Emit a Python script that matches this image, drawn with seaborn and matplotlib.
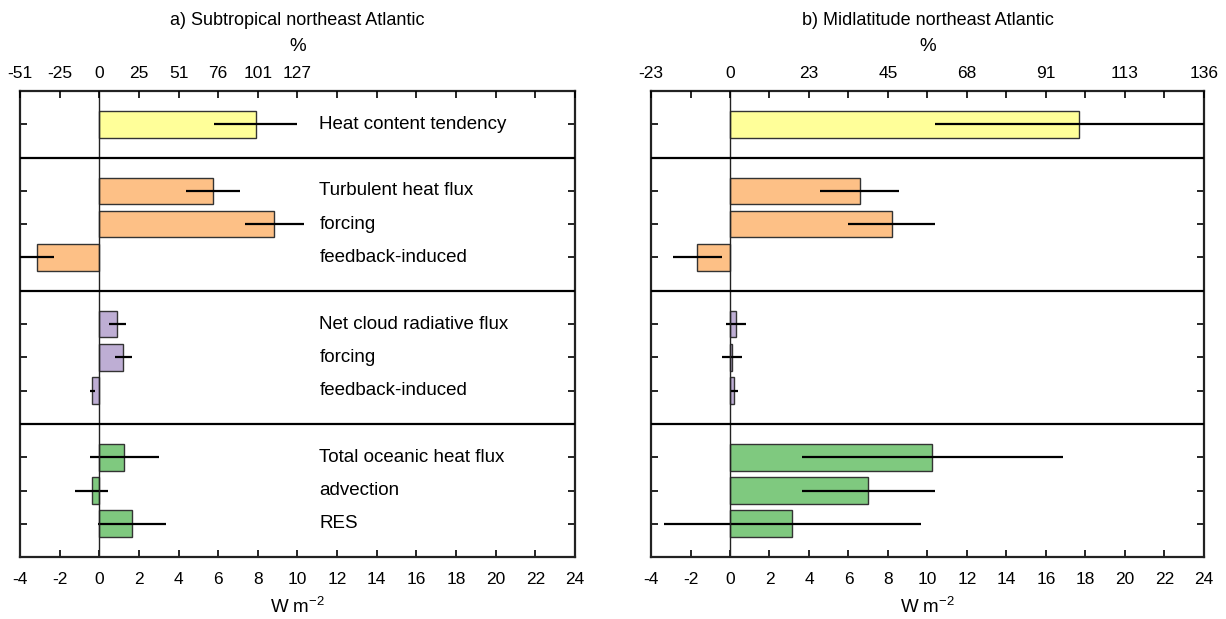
import matplotlib
matplotlib.use("Agg")
import matplotlib.pyplot as plt
import pandas as pd
import seaborn as sns

# rows, top to bottom
labels = [
    "Heat content tendency",
    "Turbulent heat flux", "forcing", "feedback-induced",
    "Net cloud radiative flux", "forcing", "feedback-induced",
    "Total oceanic heat flux", "advection", "RES",
]
groups = ["heat", "turb", "turb", "turb", "cloud", "cloud", "cloud", "ocean", "ocean", "ocean"]

# W m-2
val_a = [7.9, 5.73, 8.84, -3.13, 0.91, 1.22, -0.35, 1.26, -0.38, 1.65]
err_a = [2.1, 1.35, 1.5, 0.85, 0.43, 0.43, 0.13, 1.74, 0.82, 1.7]
val_b = [17.65, 6.56, 8.2, -1.65, 0.31, 0.1, 0.22, 10.25, 7.0, 3.15]
err_b = [7.25, 2.0, 2.2, 1.24, 0.5, 0.5, 0.19, 6.6, 3.36, 6.5]

x_ticks = list(range(-4, 25, 2))
top_labelled_a = [-4, -2, 0, 2, 4, 6, 8, 10]
top_labelled_b = [-4, 0, 4, 8, 12, 16, 20, 24]

palette = {"heat": "#ffff99", "turb": "#fdc086", "cloud": "#beaed4", "ocean": "#7fc97f"}

sns.set_style("white")
plt.rcParams["font.family"] = ["Liberation Sans", "DejaVu Sans"]
plt.rcParams["mathtext.fontset"] = "custom"
plt.rcParams["mathtext.rm"] = "Liberation Sans"
plt.rcParams["axes.unicode_minus"] = False
plt.rcParams["text.color"] = "black"
plt.rcParams["axes.labelcolor"] = "black"
plt.rcParams["xtick.color"] = "black"
plt.rcParams["ytick.color"] = "black"

# group starts get an empty row before them
group_order = list(dict.fromkeys(groups))
rows = [i + group_order.index(g) + 1 for i, g in enumerate(groups)]
n_rows = rows[-1] + 1


def draw_panel(ax, values, errors, top_labelled, title, show_labels):
    df = pd.DataFrame({"value": values, "row": rows, "group": groups})
    sns.barplot(data=df, x="value", y="row", hue="group", palette=palette,
                orient="y", native_scale=True, dodge=False, width=0.8,
                saturation=1, errorbar=None, edgecolor="#333333", linewidth=1.0,
                legend=False, ax=ax, zorder=2)
    ax.errorbar(values, rows, xerr=errors, fmt="none", ecolor="black",
                elinewidth=1.6, capsize=0, zorder=3)
    ax.axvline(0, color="#222222", lw=1.0, zorder=4)
    starts = [rows[i] - 1 for i in range(1, len(groups)) if groups[i] != groups[i - 1]]
    for s in starts:
        ax.axhline(s, color="black", lw=1.6, zorder=4)

    ax.set_xlim(-4, 24)
    ax.set_ylim(n_rows, 0)
    ax.set_xticks(x_ticks)
    ax.set_yticks(rows)
    ax.set_yticklabels([])
    ax.set_ylabel("")
    ax.set_xlabel("W m$^{-2}$", fontsize=13.5, labelpad=6)
    ax.tick_params(axis="x", direction="in", length=5, width=1.2, labelsize=12.5, pad=11)
    ax.tick_params(axis="y", direction="in", length=5, width=1.2, left=True, right=True)
    for sp in ax.spines.values():
        sp.set_linewidth(1.6)
        sp.set_color("#222222")

    if show_labels:
        for lab, r in zip(labels, rows):
            ax.text(11.1, r, lab, va="center", ha="left", fontsize=13.5)

    ref = values[0]
    top = ax.twiny()
    top.set_xlim(ax.get_xlim())
    top.set_xticks(x_ticks)
    top.set_xticklabels([f"{round(t / ref * 100)}" if t in top_labelled else "" for t in x_ticks])
    top.tick_params(axis="x", direction="in", length=5, width=1.2, labelsize=12.5, pad=7)
    top.set_xlabel("%", fontsize=13.5, labelpad=11)
    top.set_title(title, fontsize=13, pad=9)
    for sp in top.spines.values():
        sp.set_visible(False)


fig = plt.figure(figsize=(12.26, 6.19), dpi=100)
ax_a = fig.add_axes([0.0163, 0.1, 0.4527, 0.753])
ax_b = fig.add_axes([0.531, 0.1, 0.451, 0.753])

draw_panel(ax_a, val_a, err_a, top_labelled_a, "a) Subtropical northeast Atlantic", True)
draw_panel(ax_b, val_b, err_b, top_labelled_b, "b) Midlatitude northeast Atlantic", False)

fig.savefig("out.png", dpi=100)
